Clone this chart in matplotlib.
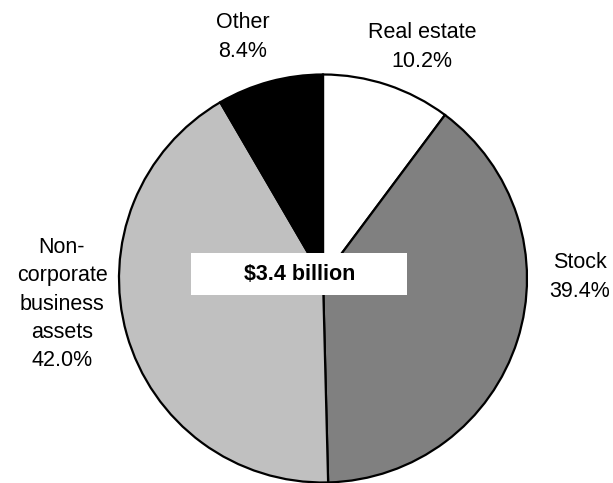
import matplotlib
matplotlib.use('Agg')
from matplotlib import pyplot as plt
from matplotlib.patches import Rectangle

# data
categories = ['Real estate', 'Stock', 'Non-\ncorporate\nbusiness\nassets', 'Other']
shares = [10.2, 39.4, 42.0, 8.4]
colors = ['#ffffff', '#808080', '#c0c0c0', '#000000']
total_label = '$3.4 billion'

# label anchor points in pixels (x, y from top)
label_pos = [(422, 47), (580, 277), (62, 304), (243, 37)]

plt.rcParams['font.family'] = ['Liberation Sans', 'DejaVu Sans']

W, H = 613, 483
fig = plt.figure(figsize=(W / 100, H / 100), dpi=100)
ax = fig.add_axes([0, 0, 1, 1])
ax.set_xlim(0, W)
ax.set_ylim(0, H)
ax.set_aspect('equal')
ax.axis('off')

ax.pie(shares, colors=colors, startangle=90, counterclock=False,
       center=(323, H - 278.5), radius=204,
       wedgeprops=dict(edgecolor='black', linewidth=1.6))
ax.set_xlim(0, W)
ax.set_ylim(0, H)

for name, val, (x, y) in zip(categories, shares, label_pos):
    ax.text(x, H - y, f'{name}\n{val:.1f}%', ha='center', va='center',
            fontsize=15.5, linespacing=1.45)

ax.add_patch(Rectangle((191, H - 295), 216, 42, facecolor='white',
                       edgecolor='none', zorder=5))
ax.text(300, H - 274, total_label, ha='center', va='center',
        fontsize=15.5, fontweight='bold', zorder=6)

fig.savefig('out.png', dpi=100)
